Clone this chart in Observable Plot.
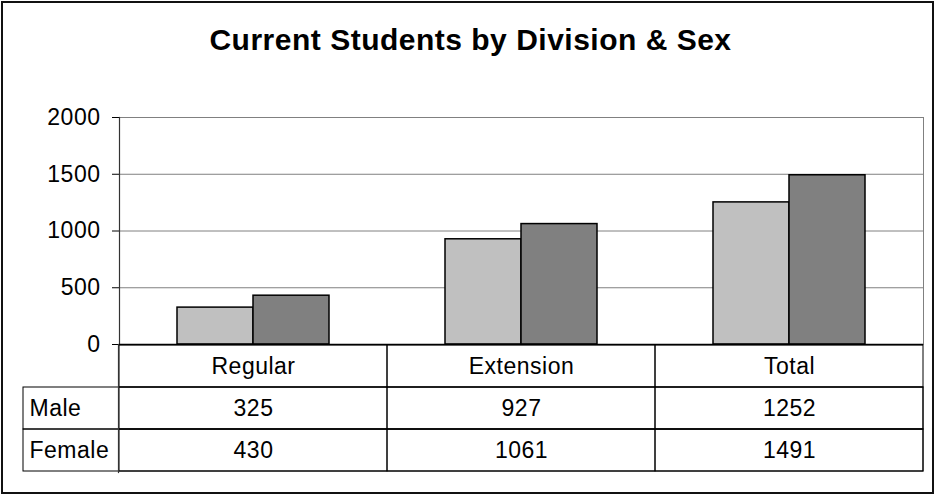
<!DOCTYPE html>
<html><head><meta charset="utf-8">
<script src="https://cdn.jsdelivr.net/npm/d3@7"></script>
<script src="https://cdn.jsdelivr.net/npm/@observablehq/plot@0.6"></script>
<style>
html,body{margin:0;padding:0;background:#fff;}
#wrap{position:relative;width:941px;height:495px;overflow:hidden;font-family:"Liberation Sans",Arial,sans-serif;}
#wrap svg{position:absolute;left:0;top:0;}
#border{position:absolute;left:1px;top:1px;width:933px;height:493px;box-sizing:border-box;border:2px solid #111;pointer-events:none;}
#title{position:absolute;left:0;width:941px;top:25px;text-align:center;font-weight:bold;font-size:30px;line-height:30px;letter-spacing:0.5px;color:#000;}
</style></head>
<body><div id="wrap"><div id="title">Current Students by Division &amp; Sex</div></div>
<script>
const divisions = ["Regular", "Extension", "Total"];
const sexes = ["Male", "Female"];
const maleValues = [325, 927, 1252];
const femaleValues = [430, 1061, 1491];
const yTicks = [0, 500, 1000, 1500, 2000];
const rowKeys = ["Division", "Male", "Female"];

const rows = [];
divisions.forEach((d, i) => {
  rows.push({division: d, sex: "Male", value: maleValues[i]});
  rows.push({division: d, sex: "Female", value: femaleValues[i]});
});
const headerCells = divisions.map(d => ({division: d, row: "Division", text: d}));
const valueCells = rows.map(r => ({division: r.division, row: r.sex, text: String(r.value)}));
const allCells = headerCells.concat(valueCells);

const W = 941, H = 495;
const ML = 118, MR = 18;
const font = "font-family:'Liberation Sans',Arial,sans-serif;font-size:23px;letter-spacing:0.5px;background:transparent;overflow:visible;color:#000;";

const chart = Plot.plot({
  width: W, height: H,
  marginTop: 117, marginBottom: 151, marginLeft: ML, marginRight: MR,
  style: font,
  fx: {domain: divisions, padding: 0, axis: null, label: null},
  x: {domain: sexes, paddingInner: 0, paddingOuter: 0.763, axis: null},
  y: {domain: [0, 2000], axis: null},
  color: {domain: sexes, range: ["#c0c0c0", "#808080"]},
  marks: [
    Plot.ruleY(yTicks.slice(1), {stroke: "#808080", strokeWidth: 1}),
    Plot.frame({anchor: "right", stroke: "#808080", strokeWidth: 1, facet: "super"}),
    Plot.axisY(yTicks, {anchor: "left", tickSize: 7, tickPadding: 12, tickFormat: d => String(d), label: null, fill: "#000", stroke: "#000"}),
    Plot.barY(rows, {fx: "division", x: "sex", y: "value", fill: "sex", stroke: "#000", strokeWidth: 1.5}),
    Plot.frame({anchor: "left", stroke: "#333", strokeWidth: 1.2, facet: "super"}),
    Plot.ruleY([0], {stroke: "#000", strokeWidth: 1.5})
  ]
});

const table = Plot.plot({
  width: W, height: H,
  marginTop: 344, marginBottom: 23, marginLeft: ML, marginRight: MR,
  style: font,
  x: {domain: divisions, padding: 0, axis: null},
  y: {domain: rowKeys, padding: 0, axis: null},
  marks: [
    Plot.cell(sexes, {y: d => d, fill: "none", stroke: "#000", strokeWidth: 1, insetLeft: -95}),
    Plot.cell(allCells, {x: "division", y: "row", fill: "none", stroke: "#000", strokeWidth: 1}),
    Plot.frame({anchor: "left", stroke: "#333", strokeWidth: 1.2}),
    Plot.text(allCells, {x: "division", y: "row", text: "text", fill: "#000"}),
    Plot.text(sexes, {y: d => d, text: d => d, frameAnchor: "left", textAnchor: "start", dx: -89, fill: "#000"})
  ]
});

const wrap = document.getElementById("wrap");
wrap.appendChild(chart);
wrap.appendChild(table);
const b = document.createElement("div"); b.id = "border"; wrap.appendChild(b);
</script>
</body></html>
